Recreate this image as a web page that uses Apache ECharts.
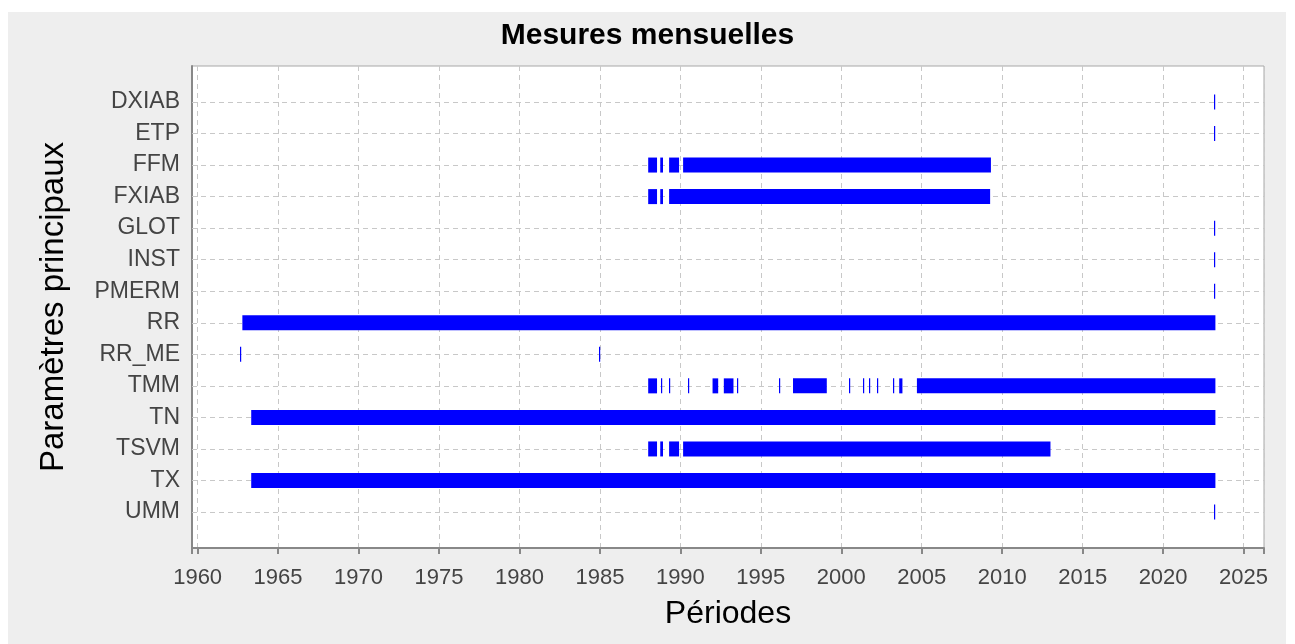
<!DOCTYPE html>
<html><head><meta charset="utf-8">
<script src="https://cdn.jsdelivr.net/npm/echarts@6/dist/echarts.min.js"></script>
<style>html,body{margin:0;padding:0;background:#fff}#c{width:1295px;height:644px}</style>
</head><body><div id="c"></div><script>
// ---- data ----
const categories = ['DXIAB','ETP','FFM','FXIAB','GLOT','INST','PMERM','RR','RR_ME','TMM','TN','TSVM','TX','UMM'];
const xTicks = [1960,1965,1970,1975,1980,1985,1990,1995,2000,2005,2010,2015,2020,2025];
const segDXIAB = [[2023.17, 2023.25]];
const segETP   = [[2023.17, 2023.25]];
const segFFM   = [[1988.0, 1988.55],[1988.75, 1988.92],[1989.3, 1989.92],[1990.17, 2009.3]];
const segFXIAB = [[1988.0, 1988.55],[1988.75, 1988.92],[1989.3, 2009.25]];
const segGLOT  = [[2023.17, 2023.25]];
const segINST  = [[2023.17, 2023.25]];
const segPMERM = [[2023.17, 2023.25]];
const segRR    = [[1962.78, 2023.25]];
const segRR_ME = [[1962.63, 1962.7],[1984.93, 1985.0]];
const segTMM   = [[1988.0, 1988.55],[1988.8, 1988.92],[1989.3, 1989.37],[1990.5, 1990.6],
                  [1992.0, 1992.35],[1992.7, 1993.3],[1993.5, 1993.58],[1996.1, 1996.17],
                  [1997.0, 1999.1],[2000.5, 2000.57],[2001.35, 2001.42],[2001.7, 2001.8],
                  [2002.2, 2002.27],[2003.2, 2003.27],[2003.6, 2003.8],[2004.7, 2023.25]];
const segTN    = [[1963.33, 2023.25]];
const segTSVM  = [[1988.0, 1988.55],[1988.75, 1988.92],[1989.3, 1989.92],[1990.17, 2013.0]];
const segTX    = [[1963.33, 2023.25]];
const segUMM   = [[2023.17, 2023.25]];

const segments = [segDXIAB, segETP, segFFM, segFXIAB, segGLOT, segINST, segPMERM, segRR, segRR_ME, segTMM, segTN, segTSVM, segTX, segUMM];
const barData = [];
segments.forEach((list, i) => list.forEach(s => barData.push([i, s[0], s[1]])));

const chart = echarts.init(document.getElementById('c'), null, {renderer: 'canvas'});
const gridColor = '#c8c8c8';
const FONT = 'Liberation Sans, Arial, sans-serif';

chart.setOption({
  backgroundColor: '#ffffff',
  animation: false,
  graphic: [{type: 'rect', z: -10, silent: true, shape: {x: 8, y: 12, width: 1278, height: 632}, style: {fill: '#eeeeee'}}],
  title: {
    text: 'Mesures mensuelles', left: 'center', top: 16,
    textStyle: {fontFamily: FONT, fontSize: 30, fontWeight: 'bold', color: '#000'}
  },
  grid: {left: 192, right: 31, top: 66, bottom: 96, show: true, backgroundColor: '#ffffff', borderColor: '#a8a8a8', borderWidth: 1},
  xAxis: {
    type: 'value', min: 1959.65, max: 2026.27, splitNumber: 13,
    name: 'Périodes', nameLocation: 'middle', nameGap: 50,
    nameTextStyle: {fontFamily: FONT, fontSize: 32, color: '#000'},
    axisLine: {show: true, onZero: false, lineStyle: {color: '#888', width: 2}},
    axisTick: {show: true, length: 6, lineStyle: {color: '#888', width: 2}},
    axisLabel: {fontFamily: FONT, fontSize: 22, color: '#444', margin: 19,
      formatter: v => (xTicks.indexOf(Math.round(v)) >= 0 && Math.abs(v - Math.round(v)) < 1e-6) ? String(Math.round(v)) : ''},
    splitLine: {show: true, lineStyle: {color: gridColor, type: [5, 4], width: 1}}
  },
  yAxis: {
    type: 'value', inverse: true, min: -1.14, max: 14.14, splitNumber: 15,
    name: 'Paramètres principaux', nameLocation: 'middle', nameGap: 122, nameRotate: 90,
    nameTextStyle: {fontFamily: FONT, fontSize: 33, color: '#000'},
    axisLine: {show: true, onZero: false, lineStyle: {color: '#888', width: 2}},
    axisTick: {show: false},
    splitLine: {show: false},
    axisLabel: {fontFamily: FONT, fontSize: 23, color: '#444', margin: 12,
      formatter: v => {
        const r = Math.round(v);
        return (Math.abs(v - r) < 1e-6 && r >= 0 && r < categories.length) ? categories[r] : '';
      }}
  },
  series: [
    {
      type: 'custom', z: 1, silent: true,
      data: [],
      renderItem: () => null,
      markLine: {
        z: 1, silent: true, symbol: 'none', label: {show: false},
        lineStyle: {color: gridColor, type: [5, 4], width: 1},
        data: categories.map((c, i) => ({yAxis: i}))
      }
    },
    {
      type: 'custom', z: 3,
      encode: {x: [1, 2], y: 0},
      data: barData,
      renderItem: function (params, api) {
        const y = api.value(0);
        const p0 = api.coord([api.value(1), y]);
        const p1 = api.coord([api.value(2), y]);
        const h = 15;
        let x0 = p0[0], w = p1[0] - p0[0];
        if (w < 2) { x0 = Math.round(p0[0]); w = 1.2; }
        return {type: 'rect', shape: {x: x0, y: p0[1] - h / 2, width: w, height: h}, style: {fill: '#0000ff'}};
      }
    }
  ]
});
</script></body></html>
